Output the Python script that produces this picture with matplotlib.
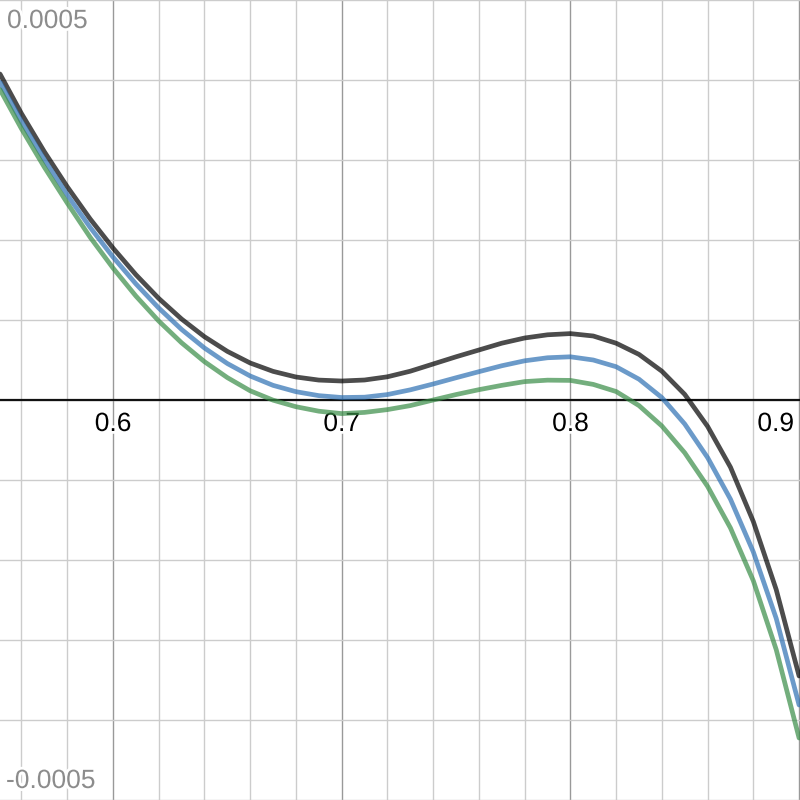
import numpy as np
import matplotlib
matplotlib.use("Agg")
import matplotlib.pyplot as plt
import matplotlib.patheffects as pe

# x samples
x = [0.5506, 0.56, 0.57, 0.58, 0.59, 0.60, 0.61, 0.62, 0.63, 0.64, 0.65, 0.66, 0.67,
     0.68, 0.69, 0.70, 0.71, 0.72, 0.73, 0.74, 0.75, 0.76, 0.77, 0.78, 0.79, 0.80,
     0.81, 0.82, 0.83, 0.84, 0.85, 0.86, 0.87, 0.88, 0.89, 0.90]

# values, in units of 1e-4
black_e4 = [4.075, 3.58, 3.103, 2.666, 2.264, 1.90, 1.567, 1.27, 1.012, 0.791,
            0.608, 0.4625, 0.358, 0.2875, 0.249, 0.2375, 0.25, 0.29, 0.36, 0.45,
            0.54, 0.625, 0.71, 0.775, 0.815, 0.83, 0.80, 0.71, 0.57, 0.36,
            0.07, -0.33, -0.84, -1.52, -2.37, -3.45]
blue_e4 = [3.97, 3.4775, 3.0025, 2.5625, 2.158, 1.7875, 1.452, 1.15, 0.882, 0.65,
           0.456, 0.30, 0.183, 0.104, 0.0545, 0.031, 0.035, 0.068, 0.127, 0.20,
           0.278, 0.354, 0.428, 0.49, 0.528, 0.54, 0.50, 0.416, 0.26, 0.03,
           -0.30, -0.72, -1.24, -1.90, -2.73, -3.8125]
green_e4 = [3.88, 3.39, 2.91, 2.4625, 2.035, 1.65, 1.30, 0.9875, 0.715, 0.479,
            0.28, 0.115, -0.002, -0.084, -0.14, -0.17, -0.155, -0.12, -0.07, 0.0,
            0.068, 0.129, 0.183, 0.23, 0.248, 0.245, 0.195, 0.106, -0.07, -0.325,
            -0.66, -1.08, -1.60, -2.26, -3.12, -4.225]

x_labels = ["0.6", "0.7", "0.8", "0.9"]
x_label_pos = [0.6, 0.7, 0.8, 0.9]
y_top_label = "0.0005"
y_bottom_label = "-0.0005"

black = np.array(black_e4) * 1e-4
blue = np.array(blue_e4) * 1e-4
green = np.array(green_e4) * 1e-4

fig = plt.figure(figsize=(8, 8), dpi=100)
ax = fig.add_axes([0, 0, 1, 1])
for s in ax.spines.values():
    s.set_visible(False)

ax.set_xticks(x_label_pos)
ax.set_xticks(np.round(np.arange(0.54, 0.92, 0.02), 2), minor=True)
ax.set_yticks(np.arange(-5, 6) * 1e-4)
ax.set_xlim(0.5506, 0.9004)
ax.set_ylim(-0.0005, 0.0005)
ax.tick_params(which="both", length=0, labelbottom=False, labelleft=False)
ax.grid(which="minor", axis="x", color="#cccccc", linewidth=1.0)
ax.grid(which="major", axis="x", color="#999999", linewidth=1.0)
ax.grid(which="major", axis="y", color="#cccccc", linewidth=1.0)
ax.set_axisbelow(True)

ax.axhline(0, color="#111111", linewidth=1.6, zorder=2)

lw = 3.4
for vals, col in [(black, "#000000"), (blue, "#2d70b3"), (green, "#388c46")]:
    ax.plot(x, vals, color=col, alpha=0.7, lw=lw, solid_capstyle="round",
            solid_joinstyle="round", zorder=3)

font = "Liberation Sans"
halo = [pe.withStroke(linewidth=4, foreground="white")]
for lab, pos in zip(x_labels, x_label_pos):
    if pos >= 0.9:
        t = ax.annotate(lab, xy=(794, 369), xycoords="axes pixels",
                        ha="right", va="baseline", fontsize=19, family=font,
                        color="black", zorder=2.5)
    else:
        t = ax.annotate(lab, xy=(pos, 0), xycoords="data", xytext=(0, -31),
                        textcoords="offset pixels", ha="center", va="baseline",
                        fontsize=19, family=font, color="black", zorder=2.5)
    t.set_path_effects(halo)

t = ax.annotate(y_top_label, xy=(7, 772), xycoords="axes pixels", ha="left",
                va="baseline", fontsize=19, family=font, color="#8c8c8c", zorder=2.5)
t.set_path_effects(halo)
t = ax.annotate(y_bottom_label, xy=(6, 12), xycoords="axes pixels", ha="left",
                va="baseline", fontsize=19, family=font, color="#8c8c8c", zorder=2.5)
t.set_path_effects(halo)

fig.savefig("out.png", dpi=100)
